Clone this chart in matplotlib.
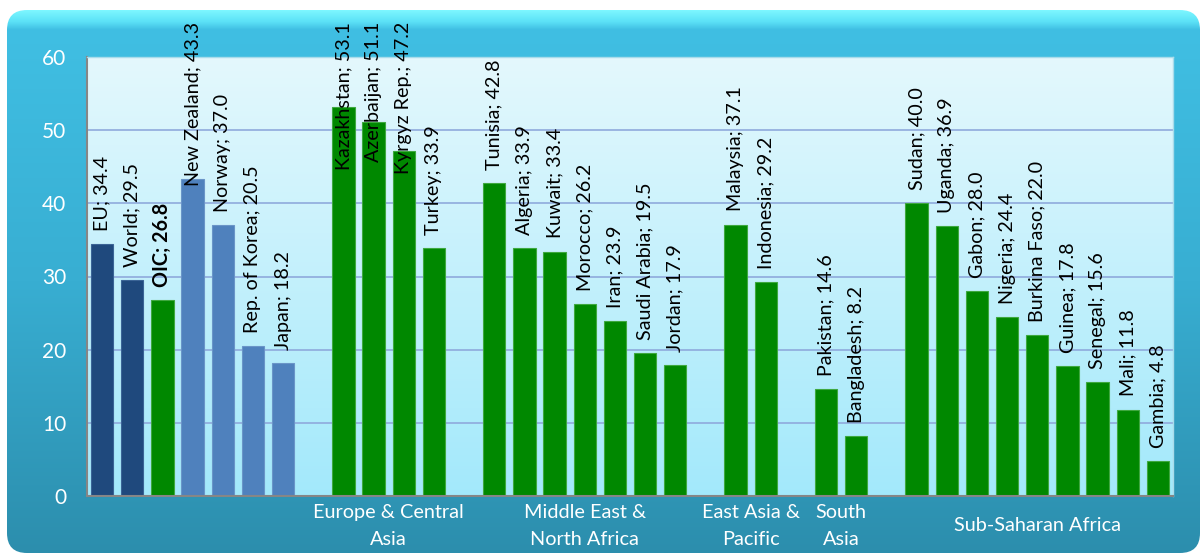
import matplotlib
matplotlib.use("Agg")
import matplotlib.pyplot as plt
import matplotlib.transforms as mtransforms
from matplotlib.colors import to_rgb
from matplotlib.patches import FancyBboxPatch
import numpy as np

plt.rcParams['font.family'] = ['Lato', 'DejaVu Sans']

# --- data ---
group_names = ["", "Europe & Central\nAsia", "Middle East &\nNorth Africa",
               "East Asia &\nPacific", "South\nAsia", "Sub-Saharan Africa"]
group_sizes = [7, 4, 7, 2, 2, 9]
countries = ["EU", "World", "OIC", "New Zealand", "Norway", "Rep. of Korea", "Japan",
             "Kazakhstan", "Azerbaijan", "Kyrgyz Rep.", "Turkey",
             "Tunisia", "Algeria", "Kuwait", "Morocco", "Iran", "Saudi Arabia", "Jordan",
             "Malaysia", "Indonesia",
             "Pakistan", "Bangladesh",
             "Sudan", "Uganda", "Gabon", "Nigeria", "Burkina Faso", "Guinea", "Senegal",
             "Mali", "Gambia"]
values = [34.4, 29.5, 26.8, 43.3, 37.0, 20.5, 18.2,
          53.1, 51.1, 47.2, 33.9,
          42.8, 33.9, 33.4, 26.2, 23.9, 19.5, 17.9,
          37.1, 29.2,
          14.6, 8.2,
          40.0, 36.9, 28.0, 24.4, 22.0, 17.8, 15.6, 11.8, 4.8]
kinds = ["ref", "ref", "oic", "peer", "peer", "peer", "peer"] + ["oic"] * 24
yticks = [0, 10, 20, 30, 40, 50, 60]

W, H, DPI = 1203, 556, 100
colors = {"ref": "#1F497D", "peer": "#4F81BD", "oic": "#008800"}
edges = {"ref": "#3B6496", "peer": "#6A95C8", "oic": "#3FA83F"}


def vgrad(stops, n=400):
    # vertical colour ramp, stops = [(pos, colour), ...] from top to bottom
    pos = np.linspace(0, 1, n)
    ps = [s[0] for s in stops]
    cs = np.array([to_rgb(s[1]) for s in stops])
    img = np.stack([np.interp(pos, ps, cs[:, k]) for k in range(3)], axis=-1)
    return img[:, None, :]


fig = plt.figure(figsize=(W / DPI, H / DPI), dpi=DPI)
fig.patch.set_facecolor("white")

# outer rounded frame
bg = fig.add_axes([0, 0, 1, 1])
bg.set_xlim(0, W)
bg.set_ylim(H, 0)
bg.axis("off")
frame = FancyBboxPatch((7, 10), W - 10, H - 13, boxstyle="round,pad=0,rounding_size=20",
                       facecolor="none", edgecolor="none", transform=bg.transData)
bg.add_patch(frame)
im = bg.imshow(vgrad([(0, "#7CF6FF"), (0.02, "#5CE2F7"), (0.035, "#40BFE3"),
                      (0.5, "#38AED2"), (1, "#2C8EAD")]),
               extent=[7, W - 3, H - 3, 10], aspect="auto", interpolation="bilinear")
im.set_clip_path(frame)

# plot area
x0, x1, y0, y1 = 87, 1173, 57, 496
ax = fig.add_axes([x0 / W, (H - y1) / H, (x1 - x0) / W, (y1 - y0) / H])
ax.imshow(vgrad([(0, "#E4F8FD"), (1, "#A3E9FB")]), extent=[0, 1, 0, 1],
          transform=ax.transAxes, aspect="auto", zorder=0, interpolation="bilinear")

# slot positions: one empty slot between groups
pos = []
group_centres = []
slot = 0
for size in group_sizes:
    group_centres.append(slot + (size - 1) / 2)
    pos.extend(range(slot, slot + size))
    slot += size + 1
n_slots = slot - 1

ax.bar(pos, values, width=0.74, color=[colors[k] for k in kinds],
       edgecolor=[edges[k] for k in kinds], linewidth=0.8, zorder=2)

ax.set_xlim(-0.5, n_slots - 0.5)
ax.set_ylim(0, 60)
ax.set_yticks(yticks)
ax.set_xticks([])
ax.tick_params(axis="y", length=0, pad=15, labelcolor="white", labelsize=15)
ax.set_axisbelow(True)
ax.yaxis.grid(True, color="#8FAADC", linewidth=1.2)
for s in ["left", "bottom"]:
    ax.spines[s].set_color("#868686")
    ax.spines[s].set_linewidth(1.5)
for s in ["top", "right"]:
    ax.spines[s].set_color("#A9DCEB")
    ax.spines[s].set_linewidth(1)

# value labels, pushed down when they would run off the top of the chart
pad = 9.5
labels = []
for p, name, v, k in zip(pos, countries, values, kinds):
    t = ax.annotate(f"{name}; {v:.1f}", xy=(p, v), xytext=(0, pad), textcoords="offset points",
                    rotation=90, ha="center", va="bottom", fontsize=14.2,
                    fontweight="bold" if name == "OIC" else "normal",
                    annotation_clip=False, zorder=5)
    labels.append(t)

fig.canvas.draw()
top_limit = H - 22
for t in labels:
    bb = t.get_window_extent()
    if bb.y1 > top_limit:
        over = (bb.y1 - top_limit) * 72 / DPI
        t.set_position((0, pad - over))

# group labels under the axis
trans = mtransforms.blended_transform_factory(ax.transData, ax.transAxes)
for c, g in zip(group_centres, group_names):
    if g:
        ax.annotate(g, xy=(c, 0), xycoords=trans, xytext=(0, -21.5), textcoords="offset points",
                    ha="center", va="center", color="white", fontsize=14.3, linespacing=1.75,
                    annotation_clip=False)

fig.savefig("out.png", dpi=DPI)
